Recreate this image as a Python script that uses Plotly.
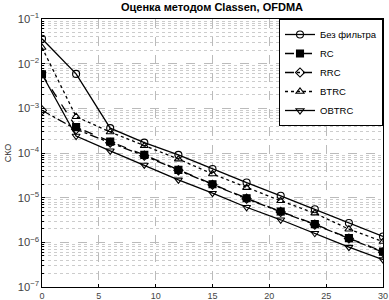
import plotly.graph_objects as go

snr = [0, 3, 6, 9, 12, 15, 18, 21, 24, 27, 30]
no_filter = [3.6e-2, 5.9e-3, 3.6e-4, 1.71e-4, 9.1e-5, 4.4e-5, 2.18e-5, 1.1e-5, 5.5e-6, 2.7e-6, 1.35e-6]
rc = [5.8e-3, 3.8e-4, 1.8e-4, 9.1e-5, 4.2e-5, 2.0e-5, 9.7e-6, 4.9e-6, 2.55e-6, 1.24e-6, 6.2e-7]
rrc = [9.0e-4, 3.4e-4, 1.7e-4, 8.7e-5, 4.1e-5, 1.95e-5, 9.5e-6, 4.8e-6, 2.5e-6, 1.22e-6, 6.0e-7]
btrc = [2.3e-2, 6.5e-4, 2.95e-4, 1.45e-4, 7.3e-5, 3.4e-5, 1.68e-5, 8.5e-6, 4.5e-6, 1.97e-6, 1.04e-6]
obtrc = [5.8e-3, 2.4e-4, 1.12e-4, 5.4e-5, 2.5e-5, 1.26e-5, 6.1e-6, 3.2e-6, 1.6e-6, 7.8e-7, 4.1e-7]

names = ["Без фильтра", "RC", "RRC", "BTRC", "OBTRC"]
series = [no_filter, rc, rrc, btrc, obtrc]
dashes = ["solid", "dash", "dashdot", "dot", "solid"]
symbols = ["circle-open", "square", "diamond-open", "triangle-up-open", "triangle-down-open"]

fig = go.Figure()
for name, ys, d, s in zip(names, series, dashes, symbols):
    fig.add_trace(go.Scatter(
        x=snr, y=ys, name=name, mode="lines+markers",
        line=dict(color="black", width=1.3, dash=d),
        marker=dict(symbol=s, size=7, color="black", line=dict(color="black", width=1.1)),
    ))

fig.update_layout(
    width=389, height=300,
    margin=dict(l=42, r=6, t=19, b=13, autoexpand=False),
    paper_bgcolor="white", plot_bgcolor="white",
    font=dict(family="Liberation Sans, Arial, sans-serif", size=9, color="#333333"),
    title=dict(text="<b>Оценка методом Classen, OFDMA</b>", x=0.545, xanchor="center",
               y=0.99, yanchor="top", font=dict(size=11, color="black")),
    legend=dict(x=1, xanchor="right", y=1, yanchor="top", bgcolor="white",
                bordercolor="black", borderwidth=1, font=dict(size=9.5, color="black"),
                tracegroupgap=0, itemwidth=30),
    showlegend=True,
)
fig.update_xaxes(
    range=[0, 30], dtick=5, tick0=0, showline=True, linecolor="black", linewidth=1,
    mirror=True, ticks="inside", ticklen=3, tickcolor="black", automargin=False,
    showgrid=True, gridcolor="#bbbbbb", griddash="dash", gridwidth=1, zeroline=False,
    tickfont=dict(size=9, color="#444444"),
)
fig.update_yaxes(
    type="log", range=[-7, -1], dtick=1, exponentformat="power", showexponent="all",
    showline=True, linecolor="black", linewidth=1, mirror=True, automargin=False,
    ticks="inside", ticklen=3, tickcolor="black",
    showgrid=True, gridcolor="#bbbbbb", griddash="dash", gridwidth=1, zeroline=False,
    minor=dict(ticks="inside", ticklen=2, tickcolor="black", showgrid=True,
               gridcolor="#cccccc", griddash="dot", gridwidth=1),
    title=dict(text="СКО", font=dict(size=9, color="#333333"), standoff=4),
    tickfont=dict(size=9, color="#444444"),
)
fig.write_html("out.html", config={"displayModeBar": False},
               post_script="document.body.style.margin='0';document.body.style.overflow='hidden';")
